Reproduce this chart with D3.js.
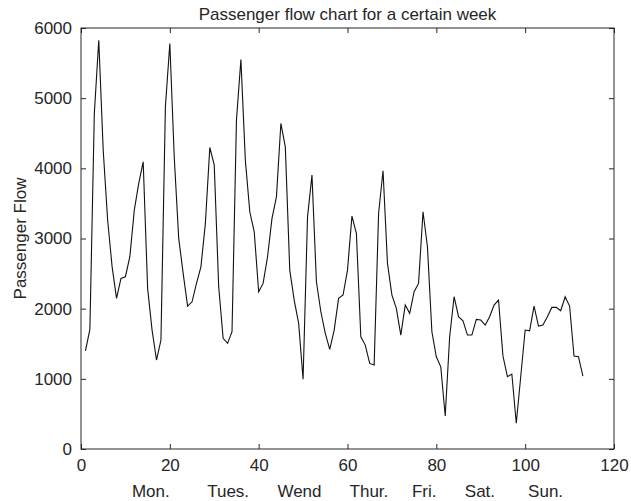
<!DOCTYPE html>
<html>
<head>
<meta charset="utf-8">
<script src="https://cdn.jsdelivr.net/npm/d3@7"></script>
<style>
  body { margin: 0; background: #fff; }
  text { font-family: "Liberation Sans", Arial, sans-serif; fill: #262626; }
</style>
</head>
<body>
<script>
// passenger flow, one value per sample (x = 1..113)
var flow = [1400, 1705, 4780, 5826, 4259, 3260, 2600, 2147, 2431, 2455,
            2740, 3405, 3785, 4093, 2289, 1695, 1268, 1553, 4876, 5779,
            4150, 3001, 2503, 2037, 2098, 2360, 2597, 3215, 4297, 4046,
            2312, 1577, 1506, 1671, 4687, 5551, 4117, 3381, 3096, 2241,
            2360, 2740, 3286, 3594, 4640, 4306, 2550, 2123, 1790, 993,
            3309, 3903, 2383, 1956, 1648, 1420, 1695, 2147, 2194, 2550,
            3319, 3072, 1600, 1481, 1220, 1196, 3357, 3965, 2645, 2194,
            2004, 1624, 2051, 1933, 2241, 2360, 3381, 2882, 1671, 1315,
            1172, 470, 1600, 2170, 1885, 1828, 1624, 1624, 1847, 1838,
            1766, 1885, 2051, 2123, 1325, 1030, 1068, 366, 1030, 1695,
            1685, 2037, 1752, 1766, 1885, 2018, 2018, 1970, 2170, 2037,
            1325, 1315, 1040];

var xTicks = [0, 20, 40, 60, 80, 100, 120];
var yTicks = [0, 1000, 2000, 3000, 4000, 5000, 6000];
var days = ["Mon.", "Tues.", "Wend", "Thur.", "Fri.", "Sat.", "Sun."];
var chartTitle = "Passenger flow chart for a certain week";
var yTitle = "Passenger Flow";

var margin = {top: 28, right: 17, bottom: 52, left: 81};
var svgWidth = 631;
var svgHeight = 501;
var chartWidth = svgWidth - margin.left - margin.right;
var chartHeight = svgHeight - margin.top - margin.bottom;
var fontSize = "17px";

var svg = d3.select("body")
    .append("svg")
    .attr("width", svgWidth)
    .attr("height", svgHeight);

var chartGroup = svg.append("g")
    .attr("transform", `translate(${margin.left}, ${margin.top})`);

var x = d3.scaleLinear().domain([0, 120]).range([0, chartWidth]);
var y = d3.scaleLinear().domain([0, 6000]).range([chartHeight, 0]);

// axes: ticks pointing inwards, matlab style box
function styleAxis(g) {
    g.select(".domain").remove();
    g.selectAll("line").attr("stroke", "#262626");
    g.selectAll("text").style("font-size", fontSize).attr("fill", "#262626");
}

chartGroup.append("g")
    .attr("transform", "translate(0," + chartHeight + ")")
    .call(d3.axisBottom(x).tickValues(xTicks).tickSize(-5).tickPadding(10))
    .call(styleAxis);

chartGroup.append("g")
    .call(d3.axisTop(x).tickValues(xTicks).tickSize(-5).tickFormat(""))
    .call(styleAxis);

chartGroup.append("g")
    .call(d3.axisLeft(y).tickValues(yTicks).tickSize(-5).tickPadding(9).tickFormat(d3.format("d")))
    .call(styleAxis);

chartGroup.append("g")
    .attr("transform", "translate(" + chartWidth + ",0)")
    .call(d3.axisRight(y).tickValues(yTicks).tickSize(-5).tickFormat(""))
    .call(styleAxis);

chartGroup.append("rect")
    .attr("width", chartWidth)
    .attr("height", chartHeight)
    .attr("fill", "none")
    .attr("stroke", "#262626")
    .attr("stroke-width", 1);

// the line
var line = d3.line()
    .x(function(d, i) { return x(i + 1); })
    .y(function(d) { return y(d); });

chartGroup.append("path")
    .datum(flow)
    .attr("d", line)
    .attr("fill", "none")
    .attr("stroke", "#111")
    .attr("stroke-width", 1.1);

// title + labels
svg.append("text")
    .attr("x", margin.left + chartWidth / 2)
    .attr("y", 20)
    .style("text-anchor", "middle")
    .style("font-size", fontSize)
    .attr("fill", "#000")
    .text(chartTitle);

chartGroup.append("text")
    .attr("transform", "rotate(-90)")
    .attr("x", 0 - chartHeight / 2)
    .attr("y", 0 - 55)
    .style("text-anchor", "middle")
    .style("font-size", fontSize)
    .text(yTitle);

// the weekday xlabel is one spaced string, like the original
var gaps = [8, 6, 6, 5, 6, 7];
var dayLabel = days.reduce(function(s, d, i) {
    return i === 0 ? d : s + " ".repeat(gaps[i - 1]) + d;
}, "");

chartGroup.append("text")
    .attr("x", chartWidth / 2)
    .attr("y", chartHeight + 48)
    .style("text-anchor", "middle")
    .style("font-size", fontSize)
    .style("white-space", "pre")
    .text(dayLabel);
</script>
</body>
</html>
